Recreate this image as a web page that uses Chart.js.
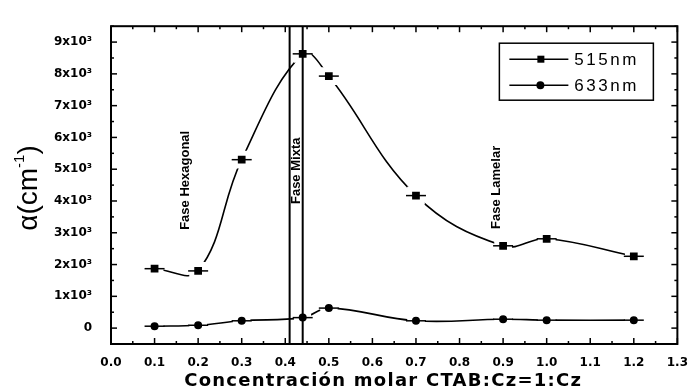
<!DOCTYPE html>
<html>
<head>
<meta charset="utf-8">
<script src="https://cdn.jsdelivr.net/npm/chart.js@4.4.0/dist/chart.umd.min.js"></script>
<style>
  html, body { margin: 0; padding: 0; background: #fff; }
  #wrap { width: 700px; height: 390px; }
</style>
</head>
<body>
<div id="wrap"><canvas id="myChart"></canvas></div>
<script>
// data
const concentration = [0.1, 0.2, 0.3, 0.44, 0.5, 0.7, 0.9, 1.0, 1.2];
const alpha515 = [1870, 1800, 5300, 8630, 7930, 4170, 2590, 2810, 2260];
const alpha633 = [60, 90, 230, 330, 630, 230, 280, 250, 250];
const seriesNames = ["515nm", "633nm"];
const yTickValues = [0, 1000, 2000, 3000, 4000, 5000, 6000, 7000, 8000, 9000];
const phaseBounds = [0.41, 0.44];
const phaseNames = ["Fase Hexagonal", "Fase Mixta", "Fase Lamelar"];
const xTitle = "Concentración molar CTAB:Cz=1:Cz";

const toPoints = (vals) => concentration.map((c, i) => ({ x: c, y: vals[i] }));

// little horizontal bars on each symbol
const stubs = {
  id: "stubs",
  afterDatasetsDraw(chart) {
    const ctx = chart.ctx;
    ctx.save();
    ctx.strokeStyle = "#000";
    ctx.lineWidth = 1.5;
    chart.data.datasets.forEach((ds, i) => {
      chart.getDatasetMeta(i).data.forEach((p) => {
        ctx.beginPath();
        ctx.moveTo(p.x - 10, p.y);
        ctx.lineTo(p.x + 10, p.y);
        ctx.stroke();
      });
    });
    ctx.restore();
  },
};

// frame, inward ticks, phase lines and labels, legend, axis titles
const decor = {
  id: "decor",
  afterDraw(chart) {
    const { ctx, chartArea: a } = chart;
    const x = chart.scales.x, y = chart.scales.y;
    ctx.save();
    ctx.strokeStyle = "#000";
    ctx.fillStyle = "#000";

    // phase boundaries
    ctx.lineWidth = 2;
    phaseBounds.forEach((v) => {
      const px = x.getPixelForValue(v);
      ctx.beginPath();
      ctx.moveTo(px, a.top);
      ctx.lineTo(px, a.bottom);
      ctx.stroke();
    });

    // frame
    ctx.lineWidth = 2;
    ctx.strokeRect(a.left, a.top, a.right - a.left, a.bottom - a.top);

    // ticks
    ctx.lineWidth = 1.5;
    const tick = (x1, y1, x2, y2) => { ctx.beginPath(); ctx.moveTo(x1, y1); ctx.lineTo(x2, y2); ctx.stroke(); };
    for (let i = 0; i <= 26; i++) {
      const px = x.getPixelForValue(i * 0.05);
      const len = i % 2 === 0 ? 6 : 3;
      tick(px, a.bottom, px, a.bottom - len);
      tick(px, a.top, px, a.top + len);
    }
    for (let v = -500; v <= 9500; v += 500) {
      const py = y.getPixelForValue(v);
      const len = v % 1000 === 0 ? 6 : 3;
      tick(a.left, py, a.left + len, py);
      tick(a.right, py, a.right - len, py);
    }

    // phase labels
    ctx.font = "bold 13px 'Liberation Sans', Arial, sans-serif";
    ctx.textAlign = "center";
    ctx.textBaseline = "middle";
    const labelAt = [[0.17, 4650], [0.425, 4950], [0.885, 4430]];
    phaseNames.forEach((t, i) => {
      ctx.save();
      ctx.translate(x.getPixelForValue(labelAt[i][0]), y.getPixelForValue(labelAt[i][1]));
      ctx.rotate(-Math.PI / 2);
      ctx.fillText(t, 0, 0);
      ctx.restore();
    });

    // legend
    const bx = a.right - 178, by = a.top + 17, bw = 154, bh = 57;
    ctx.fillStyle = "#fff";
    ctx.fillRect(bx, by, bw, bh);
    ctx.fillStyle = "#000";
    ctx.lineWidth = 1.5;
    ctx.strokeRect(bx, by, bw, bh);
    ctx.font = "17px 'Liberation Sans', Arial, sans-serif";
    ctx.letterSpacing = "2.5px";
    ctx.textAlign = "left";
    chart.data.datasets.forEach((ds, i) => {
      const ly = by + 16 + i * 26;
      ctx.lineWidth = 1.5;
      tick(bx + 10, ly, bx + 69, ly);
      if (ds.pointStyle === "rect") {
        ctx.fillRect(bx + 38, ly - 3.5, 7, 7);
      } else {
        ctx.beginPath();
        ctx.arc(bx + 41, ly, 4, 0, Math.PI * 2);
        ctx.fill();
      }
      ctx.fillText(ds.label, bx + 75, ly + 1);
    });
    ctx.letterSpacing = "0px";

    // x title, stretched to the width of the original
    ctx.font = "bold 18px 'DejaVu Sans', sans-serif";
    ctx.textAlign = "center";
    const w0 = ctx.measureText(xTitle).width;
    ctx.letterSpacing = Math.max(0, (398 - w0) / xTitle.length) + "px";
    ctx.fillText(xTitle, (a.left + a.right) / 2 - 11, 381);
    ctx.letterSpacing = "0px";

    // y title  α(cm⁻¹)
    ctx.save();
    ctx.translate(29, 188);
    ctx.rotate(-Math.PI / 2);
    ctx.textAlign = "left";
    ctx.textBaseline = "middle";
    const big = "28px 'Liberation Sans', Arial, sans-serif";
    const small = "15px 'Liberation Sans', Arial, sans-serif";
    ctx.font = big;
    const wA = ctx.measureText("α(cm").width;
    const wC = ctx.measureText(")").width;
    ctx.font = small;
    const wB = ctx.measureText("-1").width;
    let cx = -(wA + wB + wC) / 2;
    ctx.font = big;
    ctx.fillText("α(cm", cx, 0);
    cx += wA;
    ctx.font = small;
    ctx.fillText("-1", cx, -9);
    cx += wB;
    ctx.font = big;
    ctx.fillText(")", cx, 0);
    ctx.restore();

    ctx.restore();
  },
};

const ctx = document.getElementById("myChart");
const myChart = new Chart(ctx, {
  type: "line",
  data: {
    datasets: [
      {
        label: seriesNames[0],
        data: toPoints(alpha515),
        borderColor: "#000",
        borderWidth: 1.6,
        tension: 0.4,
        pointStyle: "rect",
        pointRadius: 9,
        pointBackgroundColor: "#000",
        pointBorderColor: "#fff",
        pointBorderWidth: 5,
      },
      {
        label: seriesNames[1],
        data: toPoints(alpha633),
        borderColor: "#000",
        borderWidth: 1.6,
        tension: 0.4,
        pointStyle: "circle",
        pointRadius: 6.5,
        pointBackgroundColor: "#000",
        pointBorderColor: "#fff",
        pointBorderWidth: 5,
      },
    ],
  },
  options: {
    responsive: true,
    maintainAspectRatio: false,
    animation: false,
    events: [],
    layout: { padding: { left: 0, right: 9, top: 12, bottom: 0 } },
    plugins: { legend: { display: false }, tooltip: { enabled: false } },
    scales: {
      x: {
        type: "linear",
        min: 0,
        max: 1.3,
        ticks: {
          stepSize: 0.1,
          padding: 12,
          color: "#000",
          font: { family: "'DejaVu Sans', sans-serif", size: 12, weight: "bold" },
          callback: (v) => v.toFixed(1),
        },
        grid: { drawOnChartArea: false, drawTicks: false },
        border: { display: false },
        afterFit: (s) => { s.height = 46; },
      },
      y: {
        min: -500,
        max: 9500,
        ticks: {
          padding: 19,
          color: "#000",
          font: { family: "'DejaVu Sans', sans-serif", size: 12, weight: "bold" },
          callback: (v) => (v === 0 ? "0" : v / 1000 + "x10³"),
        },
        afterBuildTicks: (s) => { s.ticks = yTickValues.map((v) => ({ value: v })); },
        grid: { drawOnChartArea: false, drawTicks: false },
        border: { display: false },
        afterFit: (s) => { s.width = 111; },
      },
    },
  },
  plugins: [stubs, decor],
});
</script>
</body>
</html>
